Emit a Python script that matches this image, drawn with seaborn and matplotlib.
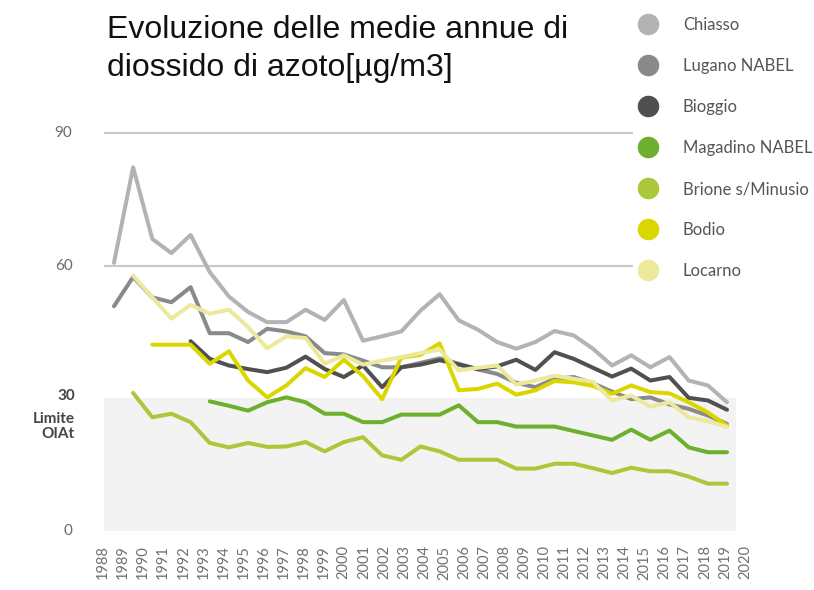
import numpy as np
import pandas as pd
import matplotlib
matplotlib.use("Agg")
import matplotlib.pyplot as plt
from matplotlib.lines import Line2D
import seaborn as sns

# Annual mean NO2 concentrations [µg/m3] per monitoring station, 1988-2020
years = list(range(1988, 2021))
nan = np.nan

chiasso = [60.6, 82.2, 66.0, 62.8, 66.9, 58.5, 53.0, 49.5, 47.2, 47.2,
           50.0, 47.7, 52.2, 43.0, 44.0, 45.1, 49.8, 53.5, 47.6, 45.5,
           42.7, 41.2, 42.7, 45.2, 44.2, 41.2, 37.4, 39.7, 37.0, 39.3,
           34.0, 32.9, 29.1]
lugano = [50.8, 57.4, 52.8, 51.7, 55.1, 44.7, 44.7, 42.7, 45.7, 45.1,
          44.0, 40.2, 39.9, 38.5, 37.0, 37.0, 38.0, 39.0, 37.8, 36.5,
          35.5, 33.5, 32.5, 34.4, 34.8, 33.4, 31.5, 29.8, 30.2, 28.6,
          27.6, 26.1, 24.2]
bioggio = [nan, nan, nan, nan, 42.9, 38.9, 37.4, 36.6, 35.9, 36.9,
           39.4, 36.6, 34.8, 37.4, 32.5, 37.0, 37.6, 38.6, 37.6, 36.6,
           37.2, 38.7, 36.4, 40.4, 38.9, 36.9, 34.9, 36.7, 34.0, 34.8,
           30.1, 29.5, 27.4]
magadino = [nan, nan, nan, nan, nan, 29.3, 28.3, 27.2, 29.1, 30.2,
            29.1, 26.5, 26.5, 24.6, 24.6, 26.3, 26.3, 26.3, 28.4, 24.6,
            24.6, 23.6, 23.6, 23.6, 22.6, 21.6, 20.6, 22.9, 20.6, 22.7,
            18.9, 17.8, 17.8]
brione = [nan, 31.2, 25.7, 26.5, 24.6, 19.9, 18.9, 19.9, 19.0, 19.1,
          20.1, 18.0, 20.1, 21.2, 17.1, 16.1, 19.1, 18.0, 16.1, 16.1,
          16.1, 14.1, 14.1, 15.2, 15.2, 14.2, 13.1, 14.3, 13.5, 13.5,
          12.3, 10.7, 10.7]
bodio = [nan, nan, 42.1, 42.1, 42.1, 37.8, 40.6, 34.0, 30.2, 32.9,
         36.8, 34.8, 38.7, 35.0, 29.8, 39.2, 39.8, 42.4, 31.8, 32.1,
         33.3, 30.8, 31.8, 33.9, 33.6, 32.8, 31.0, 32.9, 31.4, 31.1,
         29.1, 26.8, 23.8]
locarno = [nan, 57.7, 52.8, 48.0, 51.1, 49.1, 50.0, 46.1, 41.3, 44.0,
           43.6, 37.8, 39.7, 37.6, 38.5, 39.3, 40.2, 41.0, 36.3, 36.9,
           37.4, 33.1, 34.0, 35.1, 34.4, 33.7, 29.5, 30.6, 28.1, 29.1,
           25.7, 24.8, 23.5]

stations = ["Chiasso", "Lugano NABEL", "Bioggio", "Magadino NABEL",
            "Brione s/Minusio", "Bodio", "Locarno"]
series = [chiasso, lugano, bioggio, magadino, brione, bodio, locarno]
colors = ["#b3b3b3", "#8a8a8a", "#505050", "#6cb02e",
          "#abc83a", "#dcd600", "#ece99c"]

y_ticks = [0, 60, 90]
limit_value = 30
limit_label = ["Limite", "OIAt"]
title = "Evoluzione delle medie annue di\ndiossido di azoto[µg/m3]"

df = pd.concat(
    [pd.DataFrame({"anno": years, "valore": vals, "stazione": name})
     for name, vals in zip(stations, series)],
    ignore_index=True,
).dropna()

sns.set_theme(style="white")
plt.rcParams["font.family"] = ["Lato", "DejaVu Sans"]

fig = plt.figure(figsize=(8.14, 5.90), dpi=100)
ax = fig.add_axes([104 / 814, 0.10, 632 / 814, 0.6975])

# Shaded area below the legal limit
ax.axhspan(0, limit_value, color="#f3f3f3", zorder=0, lw=0)
for yv in (60, 90):
    ax.axhline(yv, xmin=0, xmax=0.835, color="#c9c9c9", lw=1.6, zorder=1)

sns.lineplot(data=df, x="anno", y="valore", hue="stazione",
             hue_order=stations, palette=colors, linewidth=2.9,
             legend=False, ax=ax, zorder=3)

ax.set_xlim(1987.48, 2020.47)
ax.set_ylim(0, 93)
ax.set_xlabel("")
ax.set_ylabel("")
ax.set_xticks([])
ax.set_yticks([])
for s in ax.spines.values():
    s.set_visible(False)

# Year labels underneath the plot
label_pos = np.linspace(1987.43, 2020.94, len(years))
for xp, yr in zip(label_pos, years):
    ax.text(xp, -0.035, str(yr), rotation=90, ha="center", va="top",
            fontsize=10.5, color="#707070", transform=ax.get_xaxis_transform(),
            clip_on=False)

# Value axis labels
for yv in y_ticks:
    ax.text(-0.05, yv, str(yv), ha="right", va="center", fontsize=11,
            color="#6a6a6a", transform=ax.get_yaxis_transform(), clip_on=False)
ax.text(-0.046, limit_value + 0.5, str(limit_value), ha="right", va="center",
        fontsize=11, fontweight="bold", color="#444444",
        transform=ax.get_yaxis_transform(), clip_on=False)
ax.text(-0.046, limit_value - 3.0, "\n".join(limit_label), ha="right",
        va="top", fontsize=11, fontweight="bold", color="#444444",
        linespacing=1.15, transform=ax.get_yaxis_transform(), clip_on=False)

fig.text(107 / 814, 1 - 15 / 590, title, ha="left", va="top",
         fontsize=23, family="Liberation Sans", color="#111111",
         linespacing=1.36)

handles = [Line2D([], [], ls="none", marker="o", markersize=14.5,
                  markerfacecolor=c, markeredgecolor=c) for c in colors]
fig.legend(handles, stations, loc="upper left",
           bbox_to_anchor=(631 / 814, 1 - 10.5 / 590), frameon=False,
           fontsize=12, labelcolor="#555555", labelspacing=1.5,
           handletextpad=1.52, handlelength=1.2, borderaxespad=0)

fig.savefig("out.png", dpi=100)
